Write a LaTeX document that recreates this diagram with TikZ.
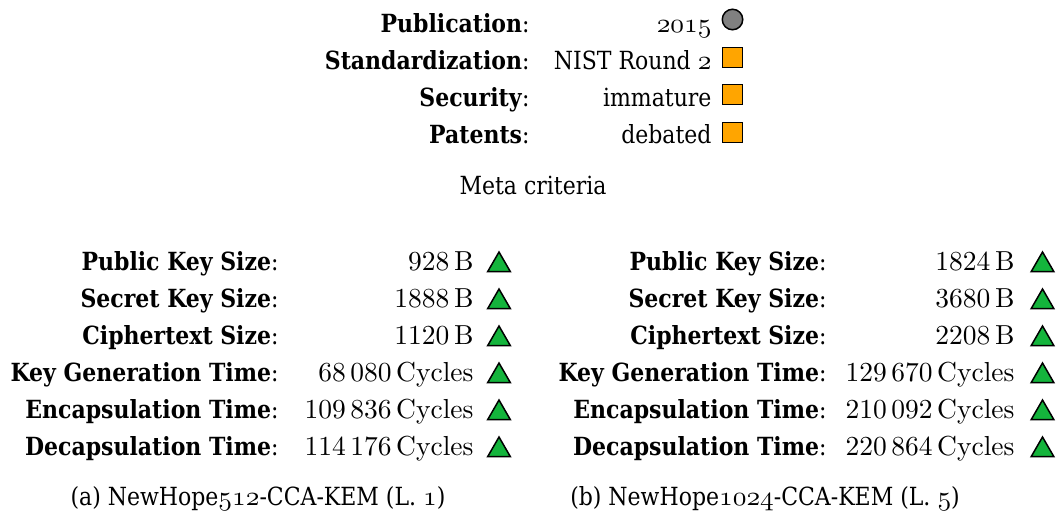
\documentclass[tikz,border=0pt]{standalone}
\usepackage{fontspec}
\setmainfont{DejaVu Serif}[FakeStretch=0.88]
\newfontfamily\cmfont{Latin Modern Roman}
\usetikzlibrary{shapes.geometric}
\newcommand\osf[1]{{\fontsize{11.4}{12}\usefont{OML}{cmm}{m}{it}#1}}
\newcommand\txtsize{\fontsize{10}{12}\selectfont}
\newcommand\numsize{\fontsize{11}{13}\selectfont}
\definecolor{markgreen}{RGB}{20,180,60}
\definecolor{markorange}{RGB}{255,165,0}
\definecolor{markgray}{RGB}{128,128,128}
\tikzset{
  lab/.style={anchor=base east, inner sep=0pt, font=\txtsize},
  txtval/.style={anchor=base east, inner sep=0pt, font=\txtsize},
  numval/.style={anchor=base east, inner sep=0pt, font=\cmfont\numsize},
  caption/.style={anchor=base, inner sep=0pt, font=\txtsize},
  tri/.style={regular polygon, regular polygon sides=3, draw=black, fill=markgreen,
    line width=0.6pt, minimum size=10.4pt, inner sep=0pt},
  sq/.style={rectangle, draw=black, fill=markorange, line width=0.6pt,
    minimum size=8.0pt, inner sep=0pt},
  dot/.style={circle, draw=black, fill=markgray, line width=0.6pt,
    minimum size=8.2pt, inner sep=0pt},
}
\begin{document}
\begin{tikzpicture}[x=0.4pt,y=-0.4pt]
\useasboundingbox (0,0) rectangle (1057,514);

% meta criteria block
\node[lab] (lpub) at (530,32) {\textbf{Publication}:};
\node[lab] (lstd) at (530,69) {\textbf{Standardization}:};
\node[lab] (lsec) at (530,106) {\textbf{Security}:};
\node[lab] (lpat) at (530,143) {\textbf{Patents}:};
\node[txtval] (vpub) at (712,32) {\osf{2015}};
\node[txtval] (vstd) at (712,69) {NIST Round \osf{2}};
\node[txtval] (vsec) at (712,106) {immature};
\node[txtval] (vpat) at (712,143) {debated};
\node[dot] (mpub) at (732.5,19.5) {};
\node[sq] (mstd) at (732.5,57.5) {};
\node[sq] (msec) at (732.5,94.5) {};
\node[sq] (mpat) at (732.5,132.5) {};
\node[caption] (cmeta) at (533,194) {Meta criteria};

% left block: NewHope512
\node[lab] (a1) at (279,270) {\textbf{Public Key Size}:};
\node[lab] (a2) at (279,307) {\textbf{Secret Key Size}:};
\node[lab] (a3) at (279,344) {\textbf{Ciphertext Size}:};
\node[lab] (a4) at (279,381) {\textbf{Key Generation Time}:};
\node[lab] (a5) at (279,418) {\textbf{Encapsulation Time}:};
\node[lab] (a6) at (279,455) {\textbf{Decapsulation Time}:};
\node[numval] (av1) at (474,270) {928\,B};
\node[numval] (av2) at (474,307) {1888\,B};
\node[numval] (av3) at (474,344) {1120\,B};
\node[numval] (av4) at (474,381) {68\,080\,Cycles};
\node[numval] (av5) at (474,418) {109\,836\,Cycles};
\node[numval] (av6) at (474,455) {114\,176\,Cycles};
\foreach \y [count=\i] in {265,302,339,376,413,450}
  \node[tri] (am\i) at (499,\y) {};
\node[caption] (capa) at (258,505) {(a) NewHope\osf{512}-CCA-KEM (L. \osf{1})};

% right block: NewHope1024
\node[lab] (b1) at (827,270) {\textbf{Public Key Size}:};
\node[lab] (b2) at (827,307) {\textbf{Secret Key Size}:};
\node[lab] (b3) at (827,344) {\textbf{Ciphertext Size}:};
\node[lab] (b4) at (827,381) {\textbf{Key Generation Time}:};
\node[lab] (b5) at (827,418) {\textbf{Encapsulation Time}:};
\node[lab] (b6) at (827,455) {\textbf{Decapsulation Time}:};
\node[numval] (bv1) at (1015,270) {1824\,B};
\node[numval] (bv2) at (1015,307) {3680\,B};
\node[numval] (bv3) at (1015,344) {2208\,B};
\node[numval] (bv4) at (1015,381) {129\,670\,Cycles};
\node[numval] (bv5) at (1015,418) {210\,092\,Cycles};
\node[numval] (bv6) at (1015,455) {220\,864\,Cycles};
\foreach \y [count=\i] in {265,302,339,376,413,450}
  \node[tri] (bm\i) at (1042.5,\y) {};
\node[caption] (capb) at (765,505) {(b) NewHope\osf{1024}-CCA-KEM (L. \osf{5})};
\end{tikzpicture}
\end{document}
